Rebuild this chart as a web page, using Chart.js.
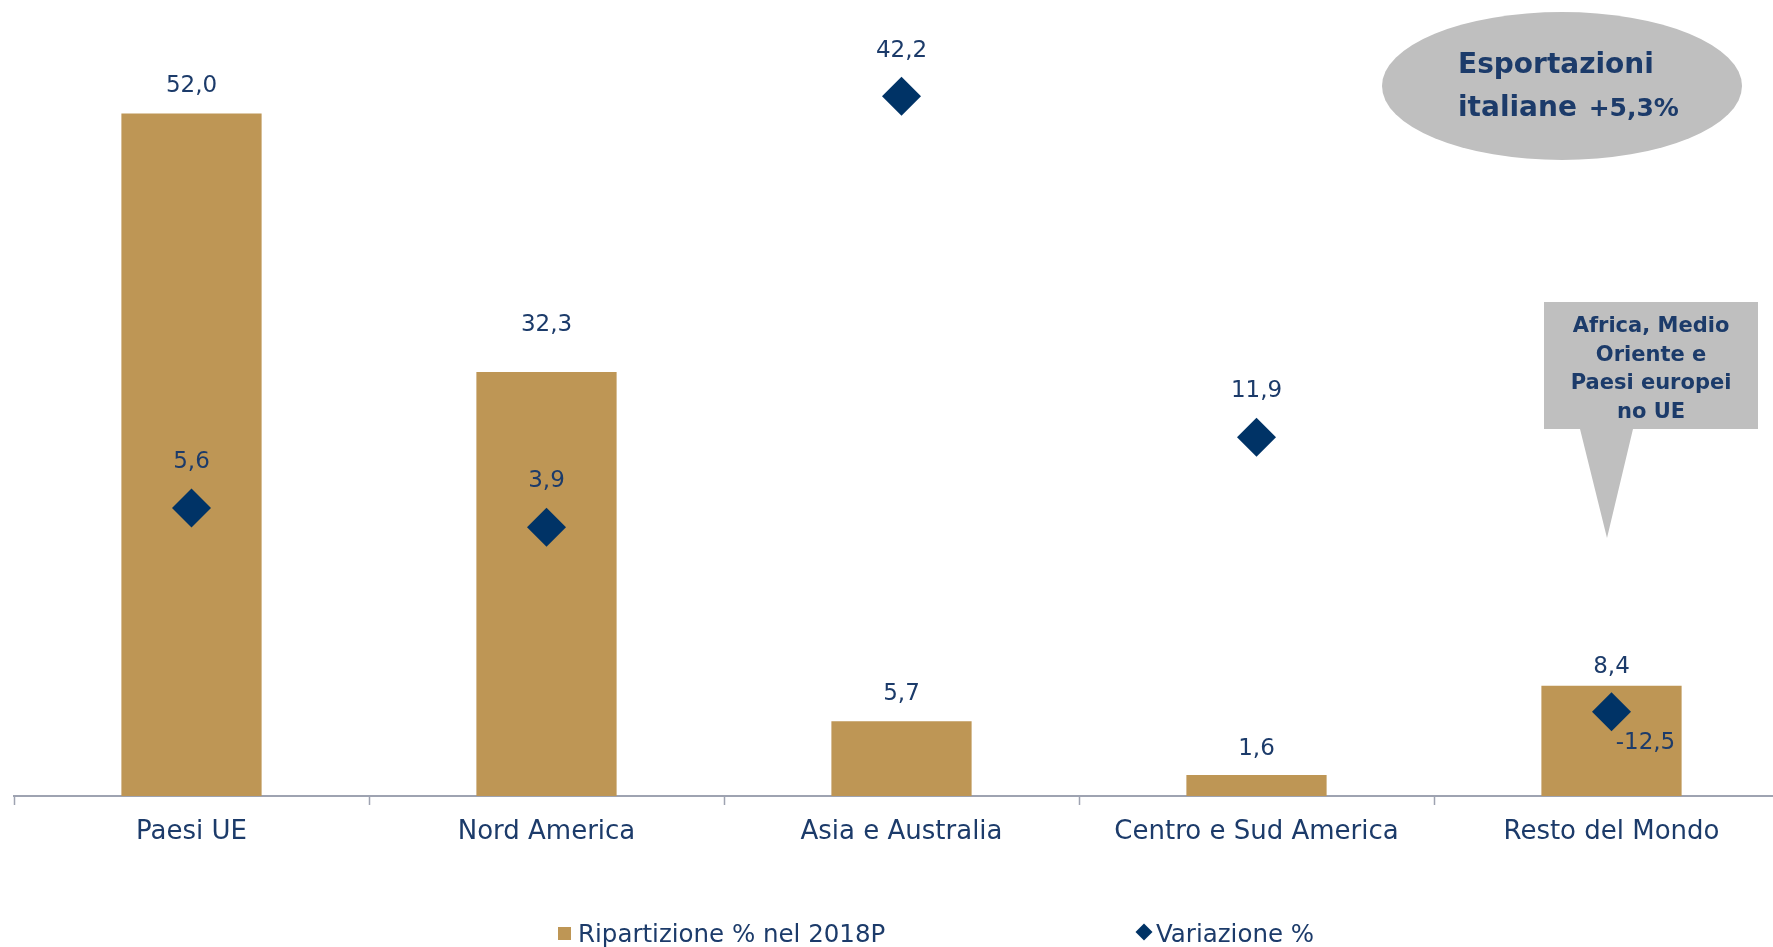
<!DOCTYPE html>
<html lang="it">
<head>
<meta charset="utf-8">
<title>Esportazioni italiane per area geografica</title>
<script src="https://cdn.jsdelivr.net/npm/chart.js@4/dist/chart.umd.min.js"></script>
<style>
  html, body {
    margin: 0;
    padding: 0;
    background: #fff;
    overflow: hidden;
  }
  #wrap {
    position: relative;
    width: 1800px;
    height: 947px;
  }
  #chart {
    position: absolute;
    left: 0;
    top: 0;
  }
  .legend-text {
    position: absolute;
    top: 919px;
    font: 24.5px 'DejaVu Sans', sans-serif;
    color: #1c3b6a;
    white-space: nowrap;
  }
  .legend-box {
    position: absolute;
    left: 558px;
    top: 927px;
    width: 13px;
    height: 13px;
    background: #be9655;
  }
  .legend-diamond {
    position: absolute;
    left: 1138px;
    top: 926px;
    width: 12px;
    height: 12px;
    background: #003366;
    transform: rotate(45deg);
  }
</style>
</head>
<body>
<div id="wrap">
  <canvas id="chart" width="1800" height="947"></canvas>
  <div class="legend-box"></div>
  <div class="legend-text" style="left: 578px">Ripartizione % nel 2018P</div>
  <div class="legend-diamond"></div>
  <div class="legend-text" style="left: 1156px">Variazione %</div>
</div>
<script>
const categories = ['Paesi UE', 'Nord America', 'Asia e Australia', 'Centro e Sud America', 'Resto del Mondo']
const ripartizione = [52.0, 32.3, 5.7, 1.6, 8.4]
const variazione = [5.6, 3.9, 42.2, 11.9, -12.5]

const textColor = '#1c3b6a'
const barColor = '#be9655'
const diamondColor = '#003366'
const axisColor = '#9ea3b1'

// label offsets from each mark, [dx, dy] in px
const barLabelOffsets = [[0, -27], [0, -47], [0, -27], [0, -26], [0, -19]]
const diamondLabelOffsets = [[0, -46], [0, -46], [0, -45], [0, -46], [34, 31]]

const fmt = (v) => v.toFixed(1).replace('.', ',')

const valueLabels = {
  id: 'valueLabels',
  afterDatasetsDraw(chart) {
    const ctx = chart.ctx
    const offsets = [barLabelOffsets, diamondLabelOffsets]
    ctx.save()
    ctx.font = '23px "DejaVu Sans"'
    ctx.fillStyle = textColor
    ctx.textAlign = 'center'
    ctx.textBaseline = 'middle'
    chart.data.datasets.forEach((ds, i) => {
      chart.getDatasetMeta(i).data.forEach((el, j) => {
        const [dx, dy] = offsets[i][j]
        ctx.fillText(fmt(ds.data[j]), el.x + dx, el.y + dy)
      })
    })
    ctx.restore()
  },
}

// grey ellipse with the total and the callout over "Resto del Mondo"
const notes = {
  id: 'notes',
  afterDraw(chart) {
    const ctx = chart.ctx
    ctx.save()
    ctx.fillStyle = '#bfbfbf'
    ctx.beginPath()
    ctx.ellipse(1562, 86, 180, 74, 0, 0, Math.PI * 2)
    ctx.fill()

    ctx.fillStyle = textColor
    ctx.textAlign = 'left'
    ctx.textBaseline = 'alphabetic'
    ctx.font = 'bold 28px "DejaVu Sans"'
    ctx.fillText('Esportazioni', 1458, 73)
    ctx.fillText('italiane', 1458, 116)
    const w = ctx.measureText('italiane ').width
    ctx.font = 'bold 25px "DejaVu Sans"'
    ctx.fillText('+5,3%', 1458 + w + 2, 116)

    ctx.fillStyle = '#bfbfbf'
    ctx.beginPath()
    ctx.moveTo(1544, 302)
    ctx.lineTo(1758, 302)
    ctx.lineTo(1758, 429)
    ctx.lineTo(1633, 429)
    ctx.lineTo(1607, 538)
    ctx.lineTo(1580, 429)
    ctx.lineTo(1544, 429)
    ctx.closePath()
    ctx.fill()

    ctx.fillStyle = textColor
    ctx.textAlign = 'center'
    ctx.font = 'bold 21px "DejaVu Sans"'
    const lines = ['Africa, Medio', 'Oriente e', 'Paesi europei', 'no UE']
    lines.forEach((t, i) => ctx.fillText(t, 1651, 332 + i * 28.7))
    ctx.restore()
  },
}

new Chart(document.getElementById('chart'), {
  type: 'bar',
  data: {
    labels: categories,
    datasets: [
      {
        label: 'Ripartizione % nel 2018P',
        data: ripartizione,
        backgroundColor: barColor,
        categoryPercentage: 1,
        barPercentage: 0.395,
        yAxisID: 'y',
        order: 1,
      },
      {
        type: 'line',
        label: 'Variazione %',
        data: variazione,
        showLine: false,
        pointStyle: 'rectRot',
        pointRadius: 19.5,
        pointHoverRadius: 19.5,
        pointBackgroundColor: diamondColor,
        pointBorderColor: diamondColor,
        pointBorderWidth: 0,
        yAxisID: 'y2',
        order: 0,
      },
    ],
  },
  options: {
    responsive: false,
    devicePixelRatio: 1,
    animation: false,
    layout: {
      autoPadding: false,
      padding: { left: 14, right: 11, top: 8.5, bottom: 0 },
    },
    plugins: {
      legend: { display: false },
      tooltip: { enabled: false },
    },
    scales: {
      x: {
        grid: {
          display: true,
          drawOnChartArea: false,
          drawTicks: true,
          tickLength: 9,
          tickWidth: 1.5,
          tickColor: axisColor,
          offset: true,
        },
        border: { display: true, color: axisColor, width: 2 },
        ticks: {
          color: textColor,
          font: { family: 'DejaVu Sans', size: 26 },
          padding: 12,
          maxRotation: 0,
          autoSkip: false,
        },
        afterFit(scale) {
          scale.height = 151
        },
      },
      y: { display: false, min: 0, max: 60 },
      y2: { display: false, min: -20, max: 50 },
    },
  },
  plugins: [valueLabels, notes],
})
</script>
</body>
</html>
